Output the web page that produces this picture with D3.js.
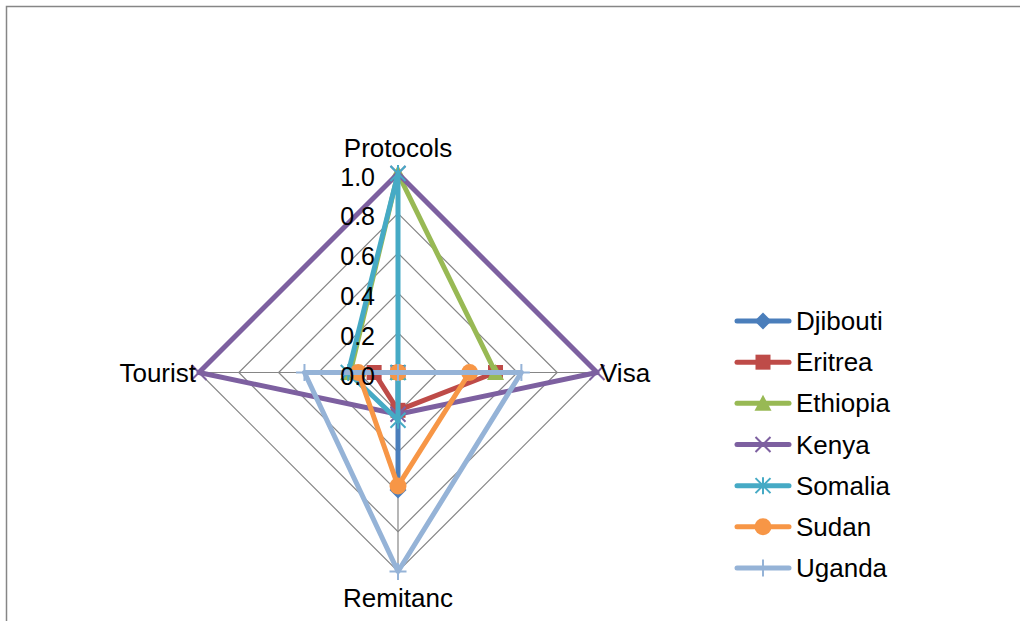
<!DOCTYPE html>
<html><head><meta charset="utf-8">
<script src="https://cdn.jsdelivr.net/npm/d3@7"></script>
<style>body{margin:0;background:#fff}svg{display:block}text{font-family:"Liberation Sans",Arial,sans-serif;fill:#000}</style>
</head><body><svg id="c" width="1020" height="621"></svg>
<script>
const categories = ["Protocols","Visa","Remitanc","Tourist"];
const seriesNames = ["Djibouti","Eritrea","Ethiopia","Kenya","Somalia","Sudan","Uganda"];
const djibouti = [0, 0, 0.59, 0];
const eritrea  = [0, 0.49, 0.19, 0.12];
const ethiopia = [1, 0.49, 0, 0.24];
const kenya    = [1, 1, 0.21, 1];
const somalia  = [1, 0, 0.24, 0.25];
const sudan    = [0, 0.36, 0.57, 0.2];
const uganda   = [0, 0.62, 1, 0.47];
const tickValues = [0, 0.2, 0.4, 0.6, 0.8, 1.0];
const tickLabels = ["0.0","0.2","0.4","0.6","0.8","1.0"];
const colors = ["#4A7EBB","#BE4B48","#98B954","#7D60A0","#46AAC5","#F79646","#95B3D7"];
const shapes = ["diamond","square","triangle","x","star","circle","plus"];
const values = [djibouti, eritrea, ethiopia, kenya, somalia, sudan, uganda];

const svg = d3.select("#c");
svg.append("rect").attr("x",6.5).attr("y",6.5).attr("width",1040).attr("height",640)
  .attr("fill","none").attr("stroke","#868686").attr("stroke-width",1.5);

const cx = 398, cy = 372.5, R = 199;
const r = d3.scaleLinear().domain([0,1]).range([0,R]);
const angle = d3.scalePoint().domain(categories).range([0, 2*Math.PI*3/4]);
const pt = (cat, v) => { const a = angle(cat) - Math.PI/2; return [cx + r(v)*Math.cos(a), cy + r(v)*Math.sin(a)]; };

const g = svg.append("g");
tickValues.filter(t=>t>0).forEach(t=>{
  g.append("path").attr("d", d3.line()(categories.map(c=>pt(c,t))) + "Z")
   .attr("fill","none").attr("stroke","#868686").attr("stroke-width",1.2);
});
categories.forEach(c=>{
  const [x,y] = pt(c,1);
  g.append("line").attr("x1",cx).attr("y1",cy).attr("x2",x).attr("y2",y)
   .attr("stroke","#868686").attr("stroke-width",1.2);
});

function marker(sel, shape, color, s){
  const h = s/2;
  if(shape==="diamond") sel.append("path").attr("d",`M0,${-h-1}L${h+1},0L0,${h+1}L${-h-1},0Z`).attr("fill",color);
  else if(shape==="square") sel.append("rect").attr("x",-h).attr("y",-h).attr("width",s).attr("height",s).attr("fill",color);
  else if(shape==="triangle") sel.append("path").attr("d",`M0,${-h-1}L${h+1},${h}L${-h-1},${h}Z`).attr("fill",color);
  else if(shape==="circle") sel.append("circle").attr("r",h+1).attr("fill",color);
  else if(shape==="x") sel.append("path").attr("d",`M${-h},${-h}L${h},${h}M${-h},${h}L${h},${-h}`).attr("stroke",color).attr("stroke-width",2);
  else if(shape==="star") sel.append("path").attr("d",`M${-h},${-h}L${h},${h}M${-h},${h}L${h},${-h}M0,${-h-1}L0,${h+1}`).attr("stroke",color).attr("stroke-width",2);
  else if(shape==="plus") sel.append("path").attr("d",`M${-h-1},0L${h+1},0M0,${-h-1}L0,${h+1}`).attr("stroke",color).attr("stroke-width",2);
}

values.forEach((vals,i)=>{
  const pts = categories.map((c,j)=>pt(c, vals[j]));
  g.append("path").attr("d", d3.line()(pts)+"Z").attr("fill","none")
   .attr("stroke",colors[i]).attr("stroke-width",5).attr("stroke-linejoin","round");
  pts.forEach(p=>{
    marker(g.append("g").attr("transform",`translate(${p[0]},${p[1]})`), shapes[i], colors[i], 15);
  });
});

tickValues.forEach((t,i)=>{
  svg.append("text").attr("x",cx-23).attr("y",cy - r(t)+3).attr("text-anchor","end")
   .attr("dominant-baseline","central").style("font-size","25px").text(tickLabels[i]);
});

const labPos = {Protocols:[cx,148,"middle"], Visa:[600,373,"start"], Remitanc:[cx,598,"middle"], Tourist:[196,373,"end"]};
categories.forEach(c=>{
  const p = labPos[c];
  svg.append("text").attr("x",p[0]).attr("y",p[1]).attr("text-anchor",p[2])
   .attr("dominant-baseline","central").style("font-size","26px").text(c);
});

const ly = d3.scalePoint().domain(seriesNames).range([321, 568]);
seriesNames.forEach((n,i)=>{
  const y = ly(n);
  svg.append("line").attr("x1",737).attr("x2",789).attr("y1",y).attr("y2",y)
   .attr("stroke",colors[i]).attr("stroke-width",5).attr("stroke-linecap","round");
  marker(svg.append("g").attr("transform",`translate(763,${y})`), shapes[i], colors[i], 15);
  svg.append("text").attr("x",796).attr("y",y).attr("dominant-baseline","central")
   .style("font-size","26px").text(n);
});
</script></body></html>
